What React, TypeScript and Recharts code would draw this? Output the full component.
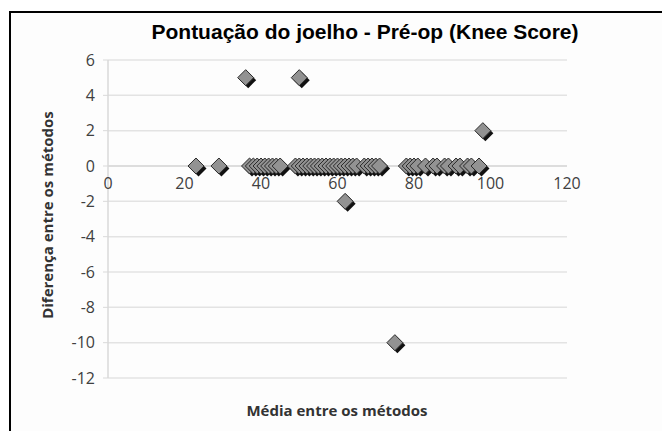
import React from "react";
import {
  CartesianGrid,
  ReferenceLine,
  Scatter,
  ScatterChart,
  XAxis,
  YAxis,
} from "recharts";

// Bland-Altman points: mean between methods (x) and difference (y)
const meanValues = [
  23, 29, 36, 37, 38, 39, 40, 41, 42, 43, 44, 45, 49, 50, 50, 51, 52, 53, 54,
  55, 56, 57, 58, 59, 60, 61, 62, 62, 63, 64, 65, 67, 68, 69, 70, 71, 75, 78,
  79, 80, 81, 83, 85, 86, 88, 89, 91, 92, 94, 95, 97, 98,
];
const diffValues = [
  0, 0, 5, 0, 0, 0, 0, 0, 0, 0, 0, 0, 0, 0, 5, 0, 0, 0, 0,
  0, 0, 0, 0, 0, 0, 0, 0, -2, 0, 0, 0, 0, 0, 0, 0, 0, -10, 0,
  0, 0, 0, 0, 0, 0, 0, 0, 0, 0, 0, 0, 0, 2,
];

const xTicks = [0, 20, 40, 60, 80, 100, 120];
const yTicks = [6, 4, 2, 0, -2, -4, -6, -8, -10, -12];

const points = meanValues.map((x, i) => ({ x, y: diffValues[i] }));

const W = 662;
const H = 431;
const PLOT_H = 318;
const Y_MIN = -12;
const Y_MAX = 6;
// distance from plot bottom to the y=0 line, where Excel draws the x labels
const zeroOffset = (PLOT_H * (0 - Y_MIN)) / (Y_MAX - Y_MIN);

const tickFont = {
  fontFamily: "'Open Sans', sans-serif",
  fontSize: 16,
  fill: "#404040",
};

function Diamond(props: any) {
  const { cx, cy } = props;
  if (cx == null || cy == null) return null;
  const r = 8;
  const d = (ox: number, oy: number) =>
    `M${cx + ox},${cy + oy - r} L${cx + ox + r},${cy + oy} L${cx + ox},${cy + oy + r} L${cx + ox - r},${cy + oy} Z`;
  return (
    <g>
      <path d={d(2.5, 2.5)} fill="#111" />
      <path d={d(0, 0)} fill="#929292" stroke="#2a2a2a" strokeWidth={1} />
    </g>
  );
}

function XTick(props: any) {
  const { x, y, payload } = props;
  return (
    <text
      x={x}
      y={y - zeroOffset + 9}
      textAnchor="middle"
      dominantBaseline="central"
      {...tickFont}
    >
      {payload.value}
    </text>
  );
}

export default function App() {
  return (
    <div
      style={{
        position: "absolute",
        left: 0,
        top: 0,
        width: W,
        height: H,
        background: "#fff",
        overflow: "hidden",
      }}
    >
      {/* chart frame: only top and left edges are visible in the crop */}
      <div
        style={{
          position: "absolute",
          left: 9,
          top: 11,
          width: W,
          height: H,
          borderTop: "2px solid #000",
          borderLeft: "2px solid #000",
          background: "#fdfdfd",
        }}
      />
      <div
        style={{
          position: "absolute",
          left: 0,
          width: 730,
          top: 19,
          textAlign: "center",
          fontFamily: "'Liberation Sans', Arial, sans-serif",
          fontWeight: 700,
          fontSize: 21,
          color: "#000",
          lineHeight: "26px",
        }}
      >
        Pontuação do joelho - Pré-op (Knee Score)
      </div>
      <div style={{ position: "absolute", left: 0, top: 0 }}>
        <ScatterChart
          width={W}
          height={H}
          margin={{ top: 60, right: 95, bottom: 23, left: 48 }}
        >
          <CartesianGrid
            horizontal
            vertical={false}
            stroke="#e3e3e3"
            strokeWidth={1.5}
          />
          <XAxis
            type="number"
            dataKey="x"
            domain={[0, 120]}
            ticks={xTicks}
            axisLine={false}
            tickLine={false}
            height={30}
            tick={<XTick />}
            interval={0}
          />
          <YAxis
            type="number"
            dataKey="y"
            domain={[Y_MIN, Y_MAX]}
            ticks={yTicks}
            interval={0}
            width={60}
            axisLine={{ stroke: "#d9d9d9", strokeWidth: 1.5 }}
            tickLine={{ stroke: "#d9d9d9" }}
            tickSize={5}
            tickMargin={8}
            tick={tickFont}
          />
          <ReferenceLine y={0} stroke="#d9d9d9" strokeWidth={1.5} />
          <Scatter
            data={points}
            shape={<Diamond />}
            isAnimationActive={false}
          />
        </ScatterChart>
      </div>
      <div
        style={{
          position: "absolute",
          left: 47,
          top: 215,
          transform: "translate(-50%, -50%) rotate(-90deg)",
          whiteSpace: "nowrap",
          fontFamily: "'Open Sans', sans-serif",
          fontWeight: 700,
          fontSize: 15,
          color: "#333",
        }}
      >
        Diferença entre os métodos
      </div>
      <div
        style={{
          position: "absolute",
          left: 337,
          top: 410,
          transform: "translate(-50%, -50%)",
          whiteSpace: "nowrap",
          fontFamily: "'Open Sans', sans-serif",
          fontWeight: 700,
          fontSize: 15,
          color: "#333",
        }}
      >
        Média entre os métodos
      </div>
    </div>
  );
}
